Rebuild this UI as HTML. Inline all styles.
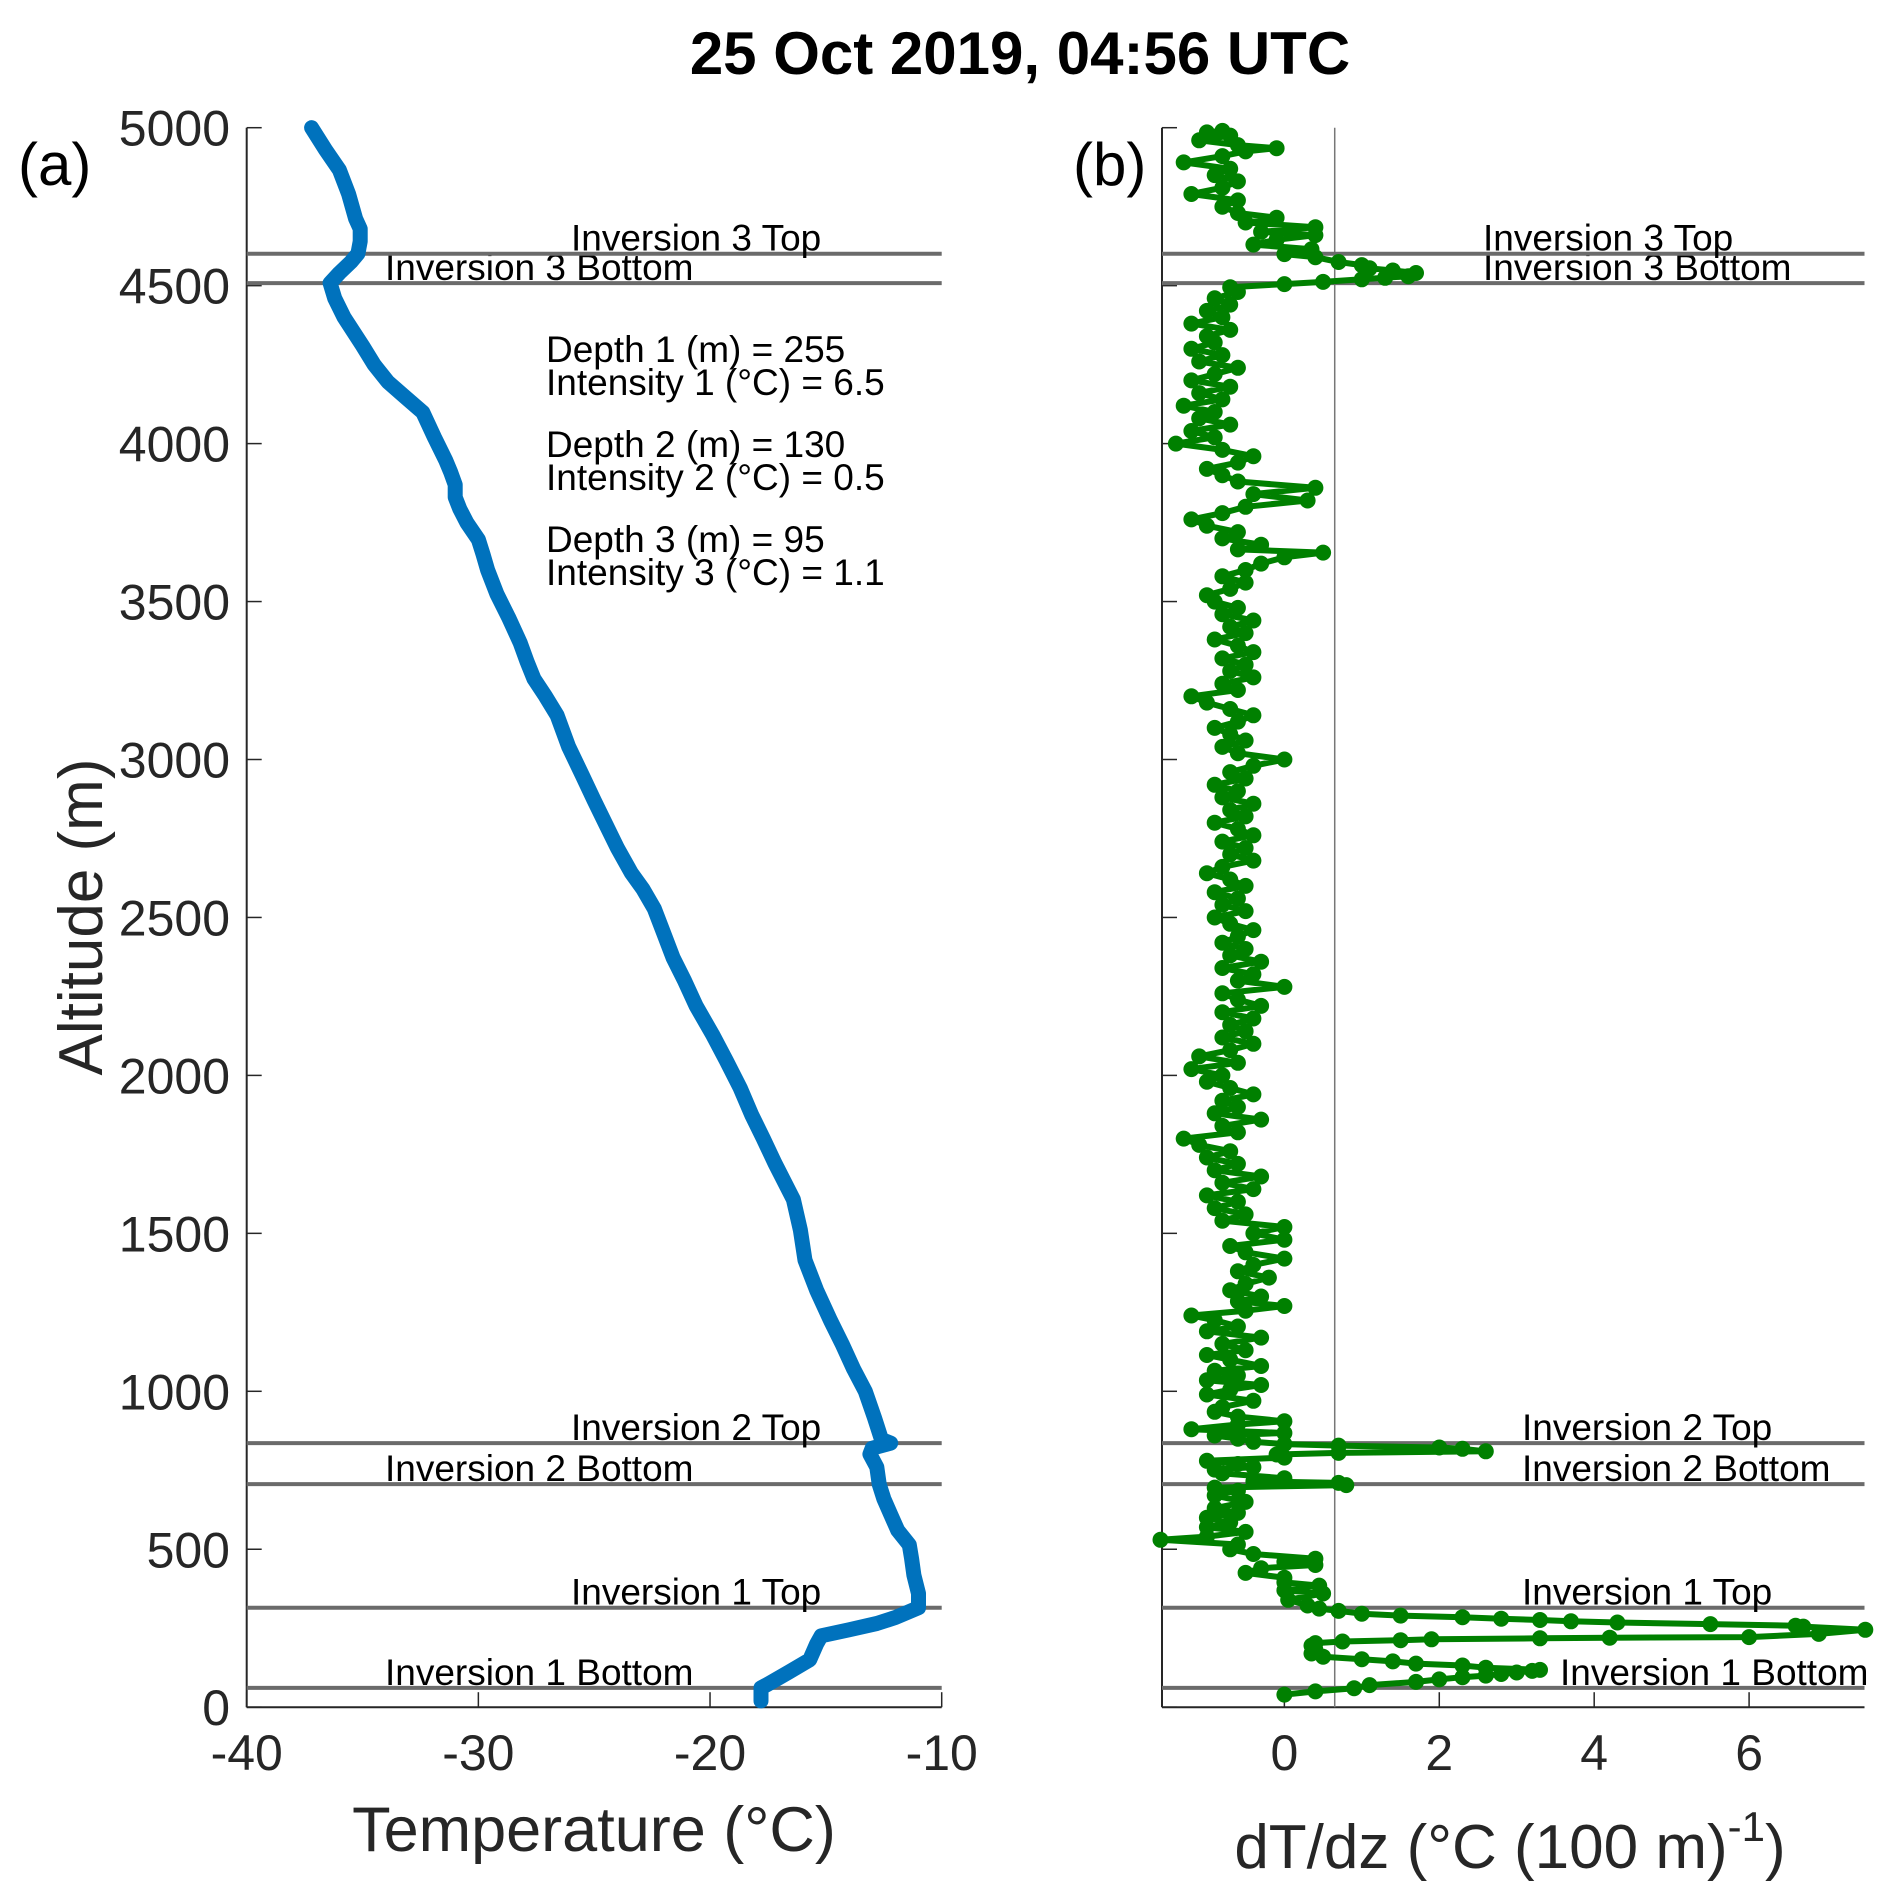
<!DOCTYPE html>
<html><head><meta charset="utf-8"><style>
html,body{margin:0;padding:0;background:#fff;}
svg{display:block;font-family:"Liberation Sans",Arial,sans-serif;}
</style></head><body>
<svg id="fig" width="1899" height="1900" viewBox="0 0 1899 1900" xmlns="http://www.w3.org/2000/svg">
<rect width="1899" height="1900" fill="#fff"/>
<text x="1020" y="74" font-size="60" font-weight="bold" text-anchor="middle" fill="#000">25 Oct 2019, 04:56 UTC</text>
<text x="18" y="185" font-size="60" fill="#000">(a)</text>
<text x="1073" y="185" font-size="60" fill="#000">(b)</text>
<text transform="translate(102,917) rotate(-90)" font-size="62" text-anchor="middle" fill="#262626">Altitude (m)</text>
<text x="594" y="1851" font-size="63" text-anchor="middle" fill="#262626">Temperature (°C)</text>
<text x="1510" y="1868" font-size="62" text-anchor="middle" fill="#262626">dT/dz (°C (100 m)<tspan dy="-27" font-size="42">-1</tspan><tspan dy="27">)</tspan></text>
<g font-size="37" fill="#000">
<text x="546" y="362">Depth 1 (m) = 255</text>
<text x="546" y="395">Intensity 1 (°C) = 6.5</text>
<text x="546" y="457">Depth 2 (m) = 130</text>
<text x="546" y="490">Intensity 2 (°C) = 0.5</text>
<text x="546" y="552">Depth 3 (m) = 95</text>
<text x="546" y="585">Intensity 3 (°C) = 1.1</text>
</g>
<g id="gA"></g>
<g id="gB"></g>
</svg>
<script>
const yTicks=[0,500,1000,1500,2000,2500,3000,3500,4000,4500,5000];
const xTicksA=[-40,-30,-20,-10];
const xTicksB=[0,2,4,6];
const invNames=["Inversion 1 Bottom","Inversion 1 Top","Inversion 2 Bottom","Inversion 2 Top","Inversion 3 Bottom","Inversion 3 Top"];
const invAlt=[61,315,706,836,4508,4601];
const tempAlt=[20,40,61,73,111,150,200,226,245,265,284,315,360,418,470,514,560,610,660,706,760,801,820,836,847,916,1000,1070,1150,1224,1320,1415,1510,1607,1722,1800,1875,1960,2047,2130,2220,2300,2373,2450,2527,2590,2641,2720,2795,2870,2948,3040,3140,3200,3255,3310,3370,3450,3524,3600,3650,3696,3750,3793,3830,3870,3910,3946,4020,4099,4150,4195,4250,4310,4400,4460,4508,4540,4575,4601,4640,4680,4712,4790,4866,4930,5000];
const tempVal=[-17.8,-17.8,-17.8,-17.5,-16.6,-15.7,-15.4,-15.2,-14.0,-12.8,-12.0,-11.0,-11.0,-11.2,-11.3,-11.4,-11.9,-12.2,-12.5,-12.7,-12.8,-13.1,-13.0,-12.2,-12.6,-12.9,-13.3,-13.8,-14.3,-14.8,-15.4,-15.9,-16.1,-16.4,-17.2,-17.7,-18.2,-18.7,-19.3,-19.9,-20.6,-21.1,-21.6,-22.0,-22.4,-22.9,-23.4,-24.0,-24.5,-25.0,-25.5,-26.1,-26.6,-27.1,-27.6,-27.9,-28.2,-28.7,-29.2,-29.6,-29.8,-30.0,-30.5,-30.8,-31.0,-31.0,-31.2,-31.4,-31.9,-32.4,-33.2,-33.9,-34.5,-35.0,-35.8,-36.2,-36.4,-36.0,-35.5,-35.2,-35.1,-35.1,-35.3,-35.6,-36.0,-36.6,-37.2];
const gradAlt=[40,50,60,70,80,88,95,100,105,110,115,118,125,132,138,145,152,160,170,182,195,203,208,212,215,218,220,222,232,245,255,258,263,268,272,276,280,285,290,296,305,312,322,340,360,370,385,395,410,425,440,450,460,470,485,500,515,530,540,555,570,585,600,615,630,650,670,685,695,703,710,715,725,740,752,760,770,780,790,800,805,810,818,822,828,833,840,850,860,868,880,895,905,920,935,950,970,990,1005,1020,1035,1050,1065,1080,1100,1115,1130,1150,1170,1190,1205,1225,1240,1255,1270,1285,1300,1320,1340,1360,1380,1400,1420,1440,1460,1480,1500,1520,1540,1560,1580,1600,1620,1640,1660,1680,1700,1720,1740,1760,1780,1800,1820,1840,1860,1880,1900,1920,1940,1960,1980,2000,2020,2040,2060,2080,2100,2120,2140,2160,2180,2200,2220,2240,2260,2280,2300,2320,2340,2360,2380,2400,2420,2440,2460,2480,2500,2520,2540,2560,2580,2600,2620,2640,2660,2680,2700,2720,2740,2760,2780,2800,2820,2840,2860,2880,2900,2920,2940,2960,2980,3000,3020,3040,3060,3080,3100,3120,3140,3160,3180,3200,3220,3240,3260,3280,3300,3320,3340,3360,3380,3400,3420,3440,3460,3480,3500,3520,3540,3560,3580,3600,3620,3640,3655,3665,3680,3700,3720,3740,3760,3780,3800,3820,3840,3860,3880,3900,3920,3940,3960,3980,4000,4020,4040,4060,4080,4100,4120,4140,4160,4180,4200,4220,4240,4260,4280,4300,4320,4340,4360,4380,4400,4420,4440,4460,4480,4495,4505,4512,4520,4525,4530,4540,4548,4555,4565,4575,4590,4600,4615,4630,4645,4660,4670,4685,4700,4715,4730,4750,4770,4790,4810,4830,4850,4870,4890,4910,4925,4935,4945,4960,4975,4985,4990];
const gradVal=[0,0.4,0.9,1.1,1.7,2.0,2.3,2.6,2.8,3.0,3.2,3.3,2.6,2.3,1.7,1.4,1.0,0.5,0.35,0.4,0.35,0.4,0.75,1.5,1.9,3.3,4.2,6.0,6.9,7.5,6.7,6.6,5.5,4.3,3.7,3.3,2.8,2.3,1.5,1.0,0.7,0.45,0.3,0.05,0.5,0.0,0.45,0.0,0.0,-0.5,-0.3,0.4,0.0,0.4,-0.4,-0.7,-0.6,-1.6,-1.0,-0.5,-1.0,-0.7,-1.0,-0.6,-0.9,-0.5,-0.9,-0.6,-0.9,0.8,0.7,-0.4,0.0,-0.8,-0.9,-0.4,-0.6,-1.0,0.0,-0.1,0.7,2.6,2.3,2.0,0.7,0.0,-0.4,-0.6,-0.9,0.0,-1.2,-0.6,0.0,-0.6,-0.9,-0.8,-0.4,-1.0,-0.7,-0.3,-1.0,-0.6,-0.9,-0.3,-0.7,-1.0,-0.5,-0.8,-0.3,-1.0,-0.6,-0.9,-1.2,-0.5,0.0,-0.6,-0.3,-0.7,-0.5,-0.2,-0.6,-0.4,0.0,-0.5,-0.7,0.0,-0.4,0.0,-0.8,-0.5,-0.9,-0.6,-1.0,-0.4,-0.8,-0.3,-0.9,-0.6,-1.0,-0.7,-1.1,-1.3,-0.6,-0.8,-0.3,-0.9,-0.6,-0.8,-0.4,-0.7,-1.0,-0.8,-1.2,-0.6,-1.1,-0.7,-0.4,-0.8,-0.5,-0.7,-0.4,-0.8,-0.3,-0.6,-0.8,0.0,-0.6,-0.4,-0.8,-0.3,-0.7,-0.5,-0.8,-0.6,-0.4,-0.7,-0.9,-0.5,-0.8,-0.6,-0.9,-0.5,-0.7,-1.0,-0.8,-0.4,-0.7,-0.5,-0.8,-0.4,-0.6,-0.9,-0.5,-0.7,-0.4,-0.8,-0.6,-0.9,-0.5,-0.7,-0.4,0.0,-0.6,-0.8,-0.5,-0.7,-0.9,-0.6,-0.4,-0.7,-1.0,-1.2,-0.6,-0.8,-0.4,-0.7,-0.5,-0.8,-0.4,-0.6,-0.9,-0.5,-0.7,-0.4,-0.8,-0.6,-0.9,-1.0,-0.7,-0.5,-0.8,-0.5,-0.3,0.0,0.5,-0.6,-0.3,-0.8,-0.6,-1.0,-1.2,-0.8,-0.5,0.3,-0.4,0.4,-0.6,-0.8,-1.0,-0.6,-0.4,-0.8,-1.4,-0.9,-1.2,-0.7,-1.1,-0.9,-1.3,-0.8,-1.1,-0.7,-1.2,-0.9,-0.6,-1.1,-0.8,-1.2,-0.9,-1.0,-0.7,-1.2,-0.8,-1.0,-0.7,-0.9,-0.6,-0.7,0.0,0.5,1.0,1.3,1.6,1.7,1.4,1.1,1.0,0.7,0.4,0.0,0.35,-0.4,-0.1,0.4,-0.3,0.4,-0.5,-0.1,-0.6,-0.8,-0.6,-1.2,-0.8,-0.6,-0.9,-0.7,-1.3,-0.8,-0.5,-0.1,-0.6,-1.1,-0.7,-1.0,-0.8];
const dryLine=0.65;

const NS='http://www.w3.org/2000/svg';
const top0=127.7,bot0=1707.2;
function yS(a){return bot0-(a/5000)*(bot0-top0);}
const AL=246.7,AR=941.7,BL=1162,BR=1864.5;
function xA(t){return AL+(t+40)/30*(AR-AL);}
const bMin=-1.58,bMax=7.49;
function xB(v){return BL+(v-bMin)/(bMax-bMin)*(BR-BL);}
function mk(tag,attrs,parent){const e=document.createElementNS(NS,tag);for(const k in attrs)e.setAttribute(k,attrs[k]);parent.appendChild(e);return e;}
const gA=document.getElementById('gA'),gB=document.getElementById('gB');

function axes(g,L,R,xt,xf,labelsY,pfx){
  yTicks.forEach(v=>{
    const t=mk('line',{x1:L,x2:L+15,y1:yS(v),y2:yS(v),stroke:'#262626','stroke-width':1.5},g);
    
    
    if(labelsY){
      const tx=mk('text',{x:230,y:yS(v)+18,'font-size':50,'text-anchor':'end',fill:'#262626'},g);
      tx.textContent=v;
      
      
    }
  });
  xt.forEach(v=>{
    const t=mk('line',{x1:xf(v),x2:xf(v),y1:bot0,y2:bot0-15,stroke:'#262626','stroke-width':1.5},g);
    
    
    const tx=mk('text',{x:xf(v),y:1770,'font-size':50,'text-anchor':'middle',fill:'#262626'},g);
    tx.textContent=v;
    
    
  });
  const ya=mk('line',{x1:L,x2:L,y1:top0,y2:bot0,stroke:'#262626','stroke-width':2},g);
  
  
  const xa=mk('line',{x1:L,x2:R,y1:bot0,y2:bot0,stroke:'#262626','stroke-width':2},g);
  
  
}
axes(gA,AL,AR,xTicksA,xA,true,'a');
axes(gB,BL,BR,xTicksB,xB,false,'b');

const dl=mk('line',{x1:xB(dryLine),x2:xB(dryLine),y1:top0,y2:bot0,stroke:'#777','stroke-width':1.5},gB);



const labA=[385,571,385,571,385,571];
const labB=[1560,1522,1522,1522,1483,1483];
invAlt.forEach((a,i)=>{
  [[gA,AL,AR,labA[i]],[gB,BL,BR,labB[i]]].forEach(([g,L,R,lx])=>{
    const l=mk('line',{x1:L,x2:R,y1:yS(a),y2:yS(a),stroke:'#6b6b6b','stroke-width':4},g);
    
    
    const t=mk('text',{x:lx,y:yS(a)-3,'font-size':37,fill:'#000'},g);
    t.textContent=invNames[i];
    
    
  });
});

const tp=mk('polyline',{points:tempAlt.map((a,i)=>xA(tempVal[i]).toFixed(1)+','+yS(a).toFixed(1)).join(' '),fill:'none',stroke:'#0072BD','stroke-width':15,'stroke-linejoin':'round','stroke-linecap':'round'},gA);



const gp=mk('polyline',{points:gradAlt.map((a,i)=>xB(gradVal[i]).toFixed(1)+','+yS(a).toFixed(1)).join(' '),fill:'none',stroke:'#008000','stroke-width':6,'stroke-linejoin':'round'},gB);


gradAlt.forEach((a,i)=>{
  const c=mk('circle',{cx:xB(gradVal[i]).toFixed(1),cy:yS(a).toFixed(1),r:8,fill:'#008000'},gB);
  
  
});
</script>
</body></html>
